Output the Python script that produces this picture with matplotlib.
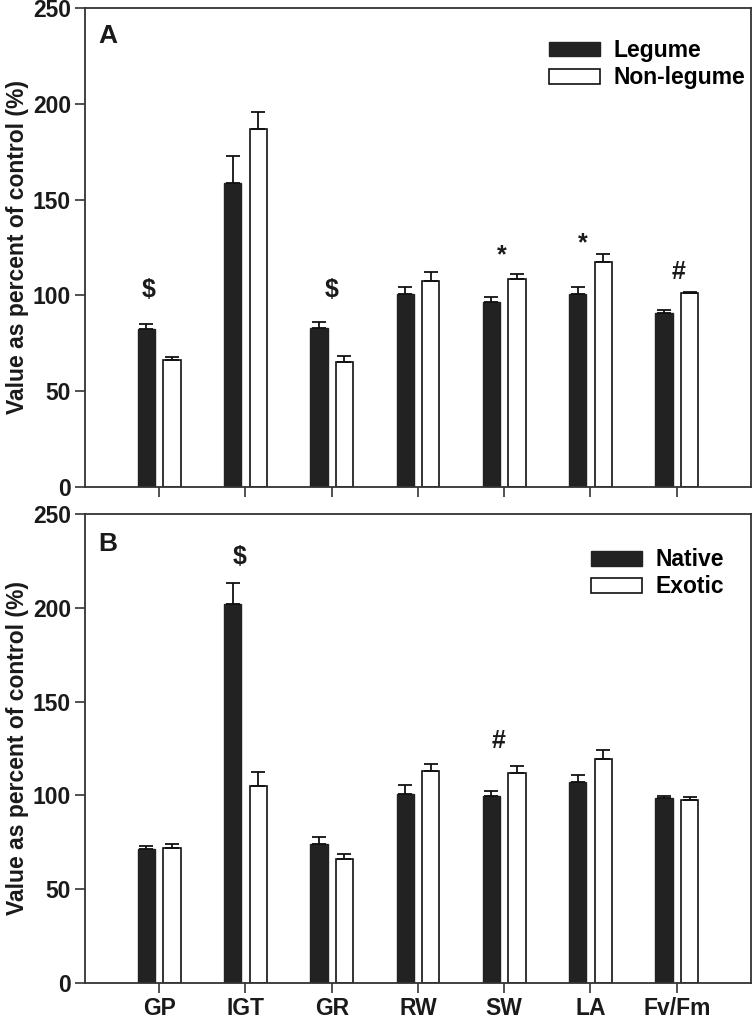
import numpy as np
import matplotlib
matplotlib.use("Agg")
import matplotlib.pyplot as plt

plt.rcParams['font.family'] = ['Liberation Sans', 'DejaVu Sans']
plt.rcParams['font.weight'] = 'bold'
plt.rcParams['font.size'] = 16.5

traits = ["GP", "IGT", "GR", "RW", "SW", "LA", "Fv/Fm"]

# panel A: legume vs non-legume
legume = [82.3, 158.7, 82.8, 100.7, 96.7, 100.7, 91.0]
legume_se = [2.7, 14.2, 3.3, 3.7, 2.6, 3.5, 1.4]
nonlegume = [66.3, 186.7, 65.1, 107.3, 108.4, 117.4, 101.4]
nonlegume_se = [1.4, 9.2, 3.1, 4.9, 2.8, 4.0, 0.3]
marks_a = [("$", -0.12, 103), ("$", 0.0, 103), ("*", -0.03, 121),
           ("*", -0.09, 127), ("#", 0.02, 112)]
marks_a_pos = [0, 2, 4, 5, 6]

# panel B: native vs exotic
native = [71.4, 201.8, 74.1, 100.7, 99.7, 107.1, 98.6]
native_se = [1.8, 11.6, 3.6, 4.8, 2.8, 3.8, 1.1]
exotic = [72.0, 104.8, 65.9, 112.8, 112.1, 119.2, 97.5]
exotic_se = [1.9, 7.5, 3.0, 4.1, 3.6, 5.2, 1.6]
marks_b = [("$", -0.07, 227), ("#", -0.07, 129)]
marks_b_pos = [1, 4]

dark = "#222222"
x = np.arange(len(traits))
w = 0.2
off = 0.148

fig = plt.figure(figsize=(7.52, 10.25), dpi=100)
axA = fig.add_axes([0.113, 0.5249, 0.8856, 0.4673])
axB = fig.add_axes([0.113, 0.041, 0.8856, 0.4576])


def panel(ax, s1, e1, s2, e2, names, letter, marks, mpos, legend_y):
    ax.bar(x - off, s1, w, color=dark, edgecolor=dark, linewidth=1, label=names[0])
    ax.bar(x + off, s2, w, color="white", edgecolor="#111111", linewidth=1.2, label=names[1])
    ax.errorbar(x - off, s1, yerr=[np.zeros(len(s1)), e1], fmt="none",
                ecolor="#111111", elinewidth=1.3, capsize=5.2, capthick=1.3)
    ax.errorbar(x + off, s2, yerr=[np.zeros(len(s2)), e2], fmt="none",
                ecolor="#111111", elinewidth=1.3, capsize=5.2, capthick=1.3)
    for (sym, dx, yy), i in zip(marks, mpos):
        ax.text(i + dx, yy, sym, ha="center", va="center", fontsize=18,
                fontweight="bold", color="#1a1a1a")
    ax.set_xlim(-0.86, 6.86)
    ax.set_ylim(0, 250)
    ax.set_yticks([0, 50, 100, 150, 200, 250])
    ax.set_xticks(x)
    ax.tick_params(direction="out", length=7, width=1.2, colors="#333333",
                   labelcolor="#1a1a1a", labelsize=16.5, pad=3)
    for sp in ax.spines.values():
        sp.set_color("#333333")
        sp.set_linewidth(1.3)
    ax.set_ylabel("Value as percent of control (%)", fontsize=16.5,
                  fontweight="bold", color="#1a1a1a", labelpad=3)
    ax.text(0.02, legend_y[0], letter, transform=ax.transAxes, fontsize=19,
            fontweight="bold", color="#1a1a1a", va="baseline")
    ax.legend(loc="upper left", bbox_to_anchor=legend_y[1], frameon=False,
              handlelength=2.23, handleheight=0.62, handletextpad=0.57,
              labelspacing=0.18, borderaxespad=0, borderpad=0, fontsize=16.5)


panel(axA, legume, legume_se, nonlegume, nonlegume_se, ["Legume", "Non-legume"],
      "A", marks_a, marks_a_pos, (0.927, (0.697, 0.935)))
panel(axB, native, native_se, exotic, exotic_se, ["Native", "Exotic"],
      "B", marks_b, marks_b_pos, (0.921, (0.76, 0.927)))

axA.set_xticklabels([])
axB.set_xticklabels(traits)
for lab in axB.get_xticklabels():
    lab.set_fontweight("bold")

fig.savefig("out.png", dpi=100)
